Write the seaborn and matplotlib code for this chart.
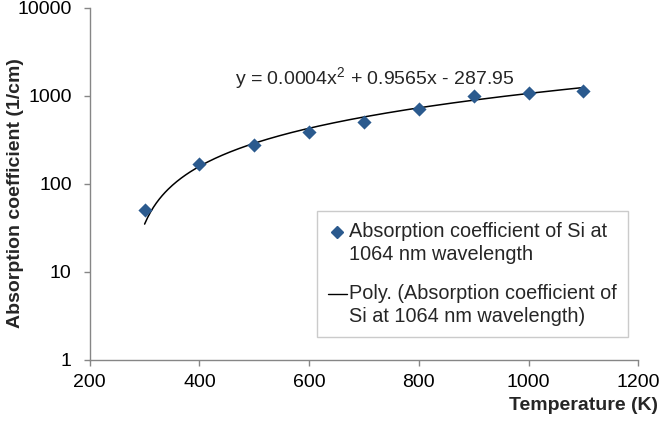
import numpy as np
import pandas as pd
import matplotlib
matplotlib.use("Agg")
import matplotlib.pyplot as plt
import seaborn as sns
from matplotlib.lines import Line2D
from matplotlib.legend_handler import HandlerLine2D

sns.set_theme(style="white")
plt.rcParams['font.family'] = ['Liberation Sans', 'DejaVu Sans']
plt.rcParams['mathtext.default'] = 'regular'

# Data
temperature = [300, 400, 500, 600, 700, 800, 900, 1000, 1100]
absorption = [50, 167, 277, 390, 505, 705, 1000, 1080, 1140]
# Trendline coefficients shown on chart (a*x^2 + b*x + c)
poly_coef = [0.0004, 0.9565, -287.95]
x_ticks = [200, 400, 600, 800, 1000, 1200]
y_ticks = [1, 10, 100, 1000, 10000]

series_label = "Absorption coefficient of Si at\n1064 nm wavelength"
trend_label = "Poly. (Absorption coefficient of\nSi at 1064 nm wavelength)"

df = pd.DataFrame({"T": temperature, "A": absorption})
xt = np.linspace(min(temperature), max(temperature), 300)
trend = pd.DataFrame({"T": xt, "A": np.polyval(poly_coef, xt)})

fig = plt.figure(figsize=(6.6, 4.21), dpi=100)
ax = fig.add_axes([0.136, 0.145, 0.831, 0.836])

marker_color = "#2B5A8E"
sns.lineplot(data=trend, x="T", y="A", ax=ax, color="black", linewidth=1.1)
sns.scatterplot(data=df, x="T", y="A", ax=ax, marker="D", s=52, color=marker_color,
                edgecolor=marker_color, linewidth=0, zorder=3)

ax.set_yscale("log")
ax.set_xlim(200, 1200)
ax.set_ylim(1, 10000)
ax.set_xticks(x_ticks)
ax.set_xticklabels([str(t) for t in x_ticks])
ax.set_yticks(y_ticks)
ax.set_yticklabels([str(t) for t in y_ticks])
ax.yaxis.set_minor_locator(matplotlib.ticker.NullLocator())
ax.set_xlabel("")
ax.set_ylabel("")

for s in ["top", "right"]:
    ax.spines[s].set_visible(False)
for s in ["left", "bottom"]:
    ax.spines[s].set_color("#868686")
    ax.spines[s].set_linewidth(1.0)
ax.tick_params(axis="both", which="major", direction="out", length=4, width=1,
               color="#868686", labelsize=14, labelcolor="black",
               left=True, bottom=True)
ax.tick_params(axis="y", pad=9)
ax.tick_params(axis="x", pad=6)

fig.text(0.023, 0.542, "Absorption coefficient (1/cm)", rotation=90, ha="center", va="center",
         fontsize=14, fontweight="bold")
fig.text(0.997, 0.037, "Temperature (K)", ha="right", va="center",
         fontsize=14, fontweight="bold")

ax.text(0.52, 0.80, "y = 0.0004x$^2$ + 0.9565x - 287.95", transform=ax.transAxes,
        ha="center", va="center", fontsize=14)


class TopHandler(HandlerLine2D):
    """Place the legend key beside the first text line, as Excel does."""
    def create_artists(self, legend, orig_handle, xdescent, ydescent, width, height,
                       fontsize, trans):
        return super().create_artists(legend, orig_handle, xdescent, ydescent - 17,
                                      width, height, fontsize, trans)


handles = [
    Line2D([], [], marker="D", linestyle="none", color=marker_color, markersize=6.5),
    Line2D([], [], color="black", linewidth=1.0),
]
leg = ax.legend(handles, [series_label, trend_label], loc="upper left",
                bbox_to_anchor=(0.414, 0.423), fontsize=14.3, frameon=True, fancybox=False,
                handlelength=0.95, handletextpad=0.12, borderpad=0.55, labelspacing=1.0,
                borderaxespad=0, handler_map={Line2D: TopHandler()})
for t in leg.get_texts():
    t.set_linespacing(1.27)
leg.get_frame().set_edgecolor("#BFBFBF")
leg.get_frame().set_linewidth(1.0)

fig.savefig("out.png", dpi=100)
